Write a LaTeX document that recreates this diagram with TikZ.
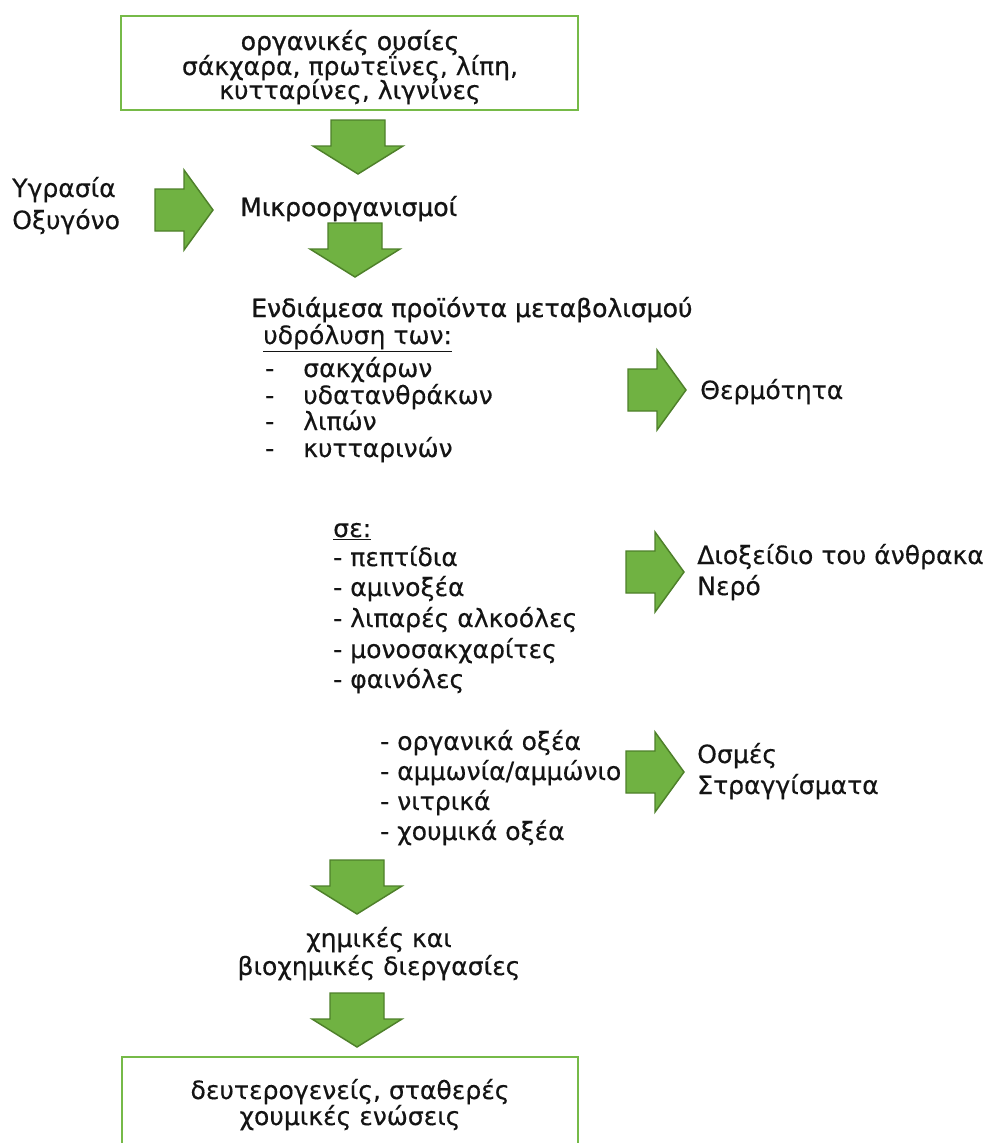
\documentclass[tikz,border=0pt]{standalone}
\usepackage{fontspec}
\setmainfont{DejaVu Sans}[FakeBold=0.35]
\newfontfamily\medfont{DejaVu Sans}[FakeBold=1.0]
\definecolor{agreen}{RGB}{112,178,66}
\definecolor{adark}{RGB}{78,128,42}
\definecolor{bgreen}{RGB}{118,186,72}
\definecolor{txtcol}{RGB}{20,20,20}
\begin{document}
\begin{tikzpicture}[x=0.75pt,y=-0.75pt]
\tikzset{
  blk/.style={fill=agreen, draw=adark, line width=1.1pt, line join=miter},
  downarr/.pic={\path[blk] (-27,0)--(27,0)--(27,26)--(45,26)--(0,54)--(-45,26)--(-27,26)--cycle;},
  rightarr/.pic={\path[blk] (0,-21)--(29,-21)--(29,-40)--(58,0)--(29,40)--(29,21)--(0,21)--cycle;},
  boxline/.style={draw=bgreen, line width=2.2pt, fill=white},
  tl/.style={anchor=base west, inner sep=0pt, text=txtcol, font=\fontsize{18.8}{22}\selectfont},
  tc/.style={anchor=base, inner sep=0pt, text=txtcol, font=\fontsize{18.8}{22}\selectfont},
  hd/.style={font=\fontsize{18.8}{22}\selectfont\medfont},
}
\useasboundingbox (0,0) rectangle (984,1143);
\fill[white] (0,0) rectangle (984,1143);

% top box
\draw[boxline] (121,16) rectangle (578,110);
\node[tc,hd] (t1) at (350,50) {οργανικές ουσίες};
\node[tc] (t2) at (350,75) {σάκχαρα, πρωτεΐνες, λίπη,};
\node[tc] (t3) at (350,99) {κυτταρίνες, λιγνίνες};

\pic (a1) at (358,120) {downarr};

% left input
\node[tl] (u1) at (12,197) {Υγρασία};
\node[tl] (u2) at (12,229) {Οξυγόνο};
\pic (a0) at (155,210) {rightarr};
\node[tl,hd] (m) at (240,216) {Μικροοργανισμοί};

\pic (a2) at (355,223) {downarr};

% intermediate products
\node[tl,hd] (e0) at (251,317) {Ενδιάμεσα προϊόντα μεταβολισμού};
\node[tl] (e1) at (263,344) {\underline{υδρόλυση των:}};
\node[tl] (d1) at (265,377) {-};
\node[tl] (w1) at (303,377) {σακχάρων};
\node[tl] (d2) at (265,404) {-};
\node[tl] (w2) at (303,404) {υδατανθράκων};
\node[tl] (d3) at (265,430) {-};
\node[tl] (w3) at (303,430) {λιπών};
\node[tl] (d4) at (265,457) {-};
\node[tl] (w4) at (303,457) {κυτταρινών};

\pic (a3) at (628,390) {rightarr};
\node[tl] (r1) at (700,399) {Θερμότητα};

\node[tl] (s0) at (333,537) {\underline{σε:}};
\node[tl] (s1) at (333,566) {- πεπτίδια};
\node[tl] (s2) at (333,596) {- αμινοξέα};
\node[tl] (s3) at (333,627) {- λιπαρές αλκοόλες};
\node[tl] (s4) at (333,658) {- μονοσακχαρίτες};
\node[tl] (s5) at (333,688) {- φαινόλες};

\pic (a4) at (626,572) {rightarr};
\node[tl] (r2) at (697,564) {Διοξείδιο του άνθρακα};
\node[tl] (r3) at (697,595) {Νερό};

\node[tl] (o1) at (380,750) {- οργανικά οξέα};
\node[tl] (o2) at (380,780) {- αμμωνία/αμμώνιο};
\node[tl] (o3) at (380,810) {- νιτρικά};
\node[tl] (o4) at (380,840) {- χουμικά οξέα};

\pic (a5) at (626,772) {rightarr};
\node[tl] (r4) at (697,763) {Οσμές};
\node[tl] (r5) at (697,794) {Στραγγίσματα};

\pic (a6) at (357,860) {downarr};
\node[tc] (c1) at (379,947) {χημικές και};
\node[tc] (c2) at (379,975) {βιοχημικές διεργασίες};
\pic (a7) at (357,993) {downarr};

% bottom box
\path[fill=white] (122,1057) rectangle (578,1150);
\draw[draw=bgreen, line width=2.2pt] (122,1150) -- (122,1057) -- (578,1057) -- (578,1150);
\node[tc] (b1) at (350,1099) {δευτερογενείς, σταθερές};
\node[tc] (b2) at (350,1125) {χουμικές ενώσεις};
\end{tikzpicture}
\end{document}
